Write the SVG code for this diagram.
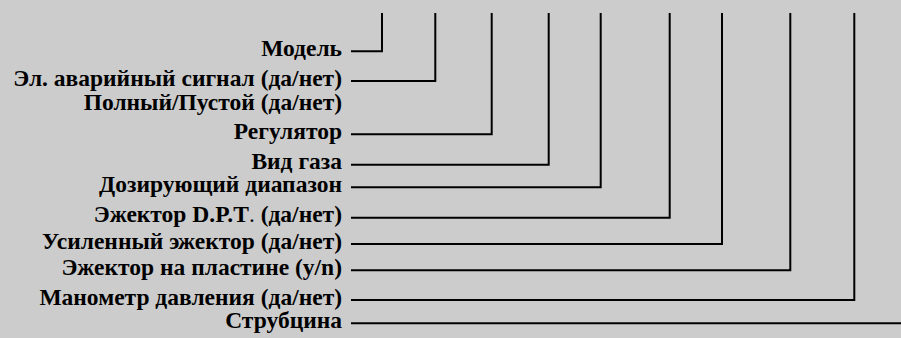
<svg xmlns="http://www.w3.org/2000/svg" width="901" height="338" viewBox="0 0 901 338">
<style>
.t{font-family:"Liberation Serif","Times New Roman",serif;font-weight:bold;font-size:23.5px;fill:#000;text-anchor:end}
.c{fill:none;stroke:#000;stroke-width:2}
</style>
<rect x="0" y="0" width="901" height="338" fill="#cccccc"/>
<g id="n1"><text class="t" x="342" y="56">Модель</text></g>
<g id="n2"><text class="t" x="342" y="85.5">Эл. аварийный сигнал (да/нет)</text></g>
<g id="n3"><text class="t" x="342" y="110">Полный/Пустой (да/нет)</text></g>
<g id="n4"><text class="t" x="342" y="138.5">Регулятор</text></g>
<g id="n5"><text class="t" x="342" y="168.5">Вид газа</text></g>
<g id="n6"><text class="t" x="342" y="191.5">Дозирующий диапазон</text></g>
<g id="n7"><text class="t" x="342" y="222">Эжектор D.P.T<tspan font-weight="normal">.</tspan> (да/нет)</text></g>
<g id="n8"><text class="t" x="342" y="248.5">Усиленный эжектор (да/нет)</text></g>
<g id="n9"><text class="t" x="342" y="274.5">Эжектор на пластине (y/n)</text></g>
<g id="n10"><text class="t" x="342" y="304.5">Манометр давления (да/нет)</text></g>
<g id="n11"><text class="t" x="342" y="327.5">Струбцина</text></g>
<g id="connectors">
<polyline class="c" points="351,51.3 382,51.3 382,13"/>
<polyline class="c" points="351,81 435.3,81 435.3,13"/>
<polyline class="c" points="351,134.3 491.7,134.3 491.7,13"/>
<polyline class="c" points="351,164.7 548.7,164.7 548.7,13"/>
<polyline class="c" points="351,187.3 600.7,187.3 600.7,13"/>
<polyline class="c" points="351,217.7 669.7,217.7 669.7,13"/>
<polyline class="c" points="351,244 722,244 722,13"/>
<polyline class="c" points="351,270.3 790.3,270.3 790.3,13"/>
<polyline class="c" points="351,300 854.3,300 854.3,13"/>
<polyline class="c" points="351,323.3 901,323.3"/>
</g>
</svg>
